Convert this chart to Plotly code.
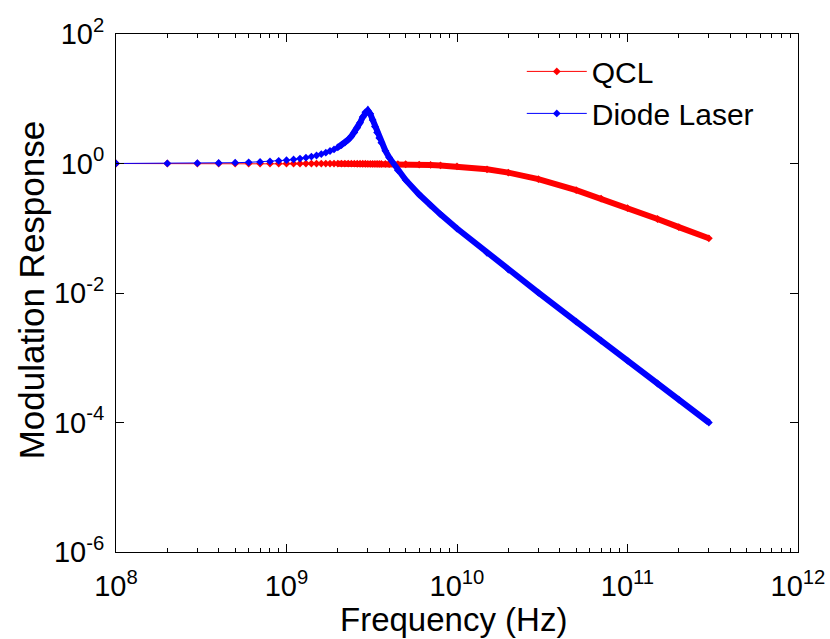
import plotly.graph_objects as go

# Frequencies (GHz)
freq_ghz = [0.1, 0.2, 0.3, 0.4, 0.5, 0.6, 0.7, 0.8, 0.9, 1.0,
            1.1, 1.2, 1.3, 1.4, 1.5, 1.6, 1.7, 1.8, 1.9, 2.0,
            2.1, 2.2, 2.3, 2.4, 2.5, 2.6, 2.7, 2.8, 2.9, 3.0,
            3.1, 3.2, 3.3, 3.4, 3.5, 3.6, 3.8, 4.0, 4.5, 5,
            6, 7, 8, 10, 15, 20, 30, 50, 70, 100,
            150, 200, 300]

qcl_resp = [1.000, 1.000, 1.000, 1.000, 1.000, 1.000, 0.999, 0.999, 0.999, 0.999,
            0.999, 0.998, 0.998, 0.998, 0.997, 0.997, 0.997, 0.996, 0.996, 0.995,
            0.995, 0.995, 0.994, 0.994, 0.993, 0.992, 0.992, 0.991, 0.991, 0.990,
            0.989, 0.989, 0.988, 0.987, 0.986, 0.986, 0.984, 0.982, 0.978, 0.973,
            0.962, 0.949, 0.935, 0.903, 0.814, 0.724, 0.573, 0.387, 0.287, 0.205,
            0.139, 0.104, 0.070]

diode_resp = [1.001, 1.004, 1.010, 1.018, 1.029, 1.042, 1.058, 1.077, 1.099, 1.125,
              1.155, 1.19, 1.23, 1.28, 1.33, 1.40, 1.47, 1.56, 1.65, 1.77,
              1.92, 2.10, 2.33, 2.63, 3.02, 3.55, 4.27, 5.22, 6.21, 6.58,
              5.84, 4.70, 3.72, 3.01, 2.48, 2.10, 1.58, 1.24, 0.787, 0.557,
              0.332, 0.225, 0.164, 0.099, 0.0417, 0.0230, 0.0101, 0.00361, 0.00184, 0.00090,
              0.00040, 0.000225, 0.000100]

x_tickvals = [1e8, 1e9, 1e10, 1e11, 1e12]
x_ticktext = ["10<sup>8</sup>", "10<sup>9</sup>", "10<sup>10</sup>", "10<sup>11</sup>", "10<sup>12</sup>"]
y_tickvals = [1e-6, 1e-4, 1e-2, 1e0, 1e2]
y_ticktext = ["10<sup>-6</sup>", "10<sup>-4</sup>", "10<sup>-2</sup>", "10<sup>0</sup>", "10<sup>2</sup>"]

freq_hz = [f * 1e9 for f in freq_ghz]
DENSE_FROM = 2.0e9  # where the markers merge into a solid band

FONT = "Arial, Liberation Sans, sans-serif"

fig = go.Figure()

def add_series(name, values, color):
    dense_x = [f for f in freq_hz if f >= DENSE_FROM]
    dense_y = [v for f, v in zip(freq_hz, values) if f >= DENSE_FROM]
    fig.add_trace(go.Scatter(x=freq_hz, y=values, name=name, mode="lines+markers",
                             line=dict(color=color, width=1),
                             marker=dict(symbol="diamond", size=6, color=color)))
    fig.add_trace(go.Scatter(x=dense_x, y=dense_y, mode="lines", showlegend=False,
                             line=dict(color=color, width=6), hoverinfo="skip"))

add_series("QCL", qcl_resp, "#ff0000")
add_series("Diode Laser", diode_resp, "#0000ff")

minor_x = [m * 10 ** e for e in range(8, 12) for m in range(2, 10)]

fig.update_layout(
    width=830, height=639,
    margin=dict(l=116, r=32, t=34, b=87),
    paper_bgcolor="white", plot_bgcolor="white",
    font=dict(family=FONT, color="black"),
    showlegend=True,
    legend=dict(x=0.595, y=0.978, xanchor="left", yanchor="top",
                bgcolor="rgba(255,255,255,0)", borderwidth=0,
                font=dict(size=30, family=FONT), itemwidth=60,
                tracegroupgap=0),
    annotations=[
        dict(text="Frequency (Hz)", xref="paper", yref="paper", x=0.495, y=-0.13,
             xanchor="center", yanchor="middle", showarrow=False,
             font=dict(size=33, family=FONT, color="black")),
        dict(text="Modulation Response", xref="paper", yref="paper", x=-0.124, y=0.506,
             xanchor="center", yanchor="middle", showarrow=False, textangle=-90,
             font=dict(size=35, family=FONT, color="black")),
    ],
)
fig.update_xaxes(type="log", range=[8, 12], showgrid=False, zeroline=False, automargin=False,
                 showline=True, linecolor="black", linewidth=1, mirror="ticks",
                 ticks="inside", ticklen=8, tickcolor="black",
                 tickvals=x_tickvals, ticktext=x_ticktext, ticklabelstandoff=8,
                 tickfont=dict(size=29, family=FONT),
                 minor=dict(tickvals=minor_x, ticks="inside", ticklen=4, tickcolor="black", showgrid=False))
fig.update_yaxes(type="log", range=[-6, 2], showgrid=False, zeroline=False, automargin=False,
                 showline=True, linecolor="black", linewidth=1, mirror="ticks",
                 ticks="inside", ticklen=8, tickcolor="black",
                 tickvals=y_tickvals, ticktext=y_ticktext, ticklabelstandoff=5,
                 tickfont=dict(size=29, family=FONT))

fig.write_html("out.html", config={"displayModeBar": False},
               post_script="document.body.style.margin='0px';")
